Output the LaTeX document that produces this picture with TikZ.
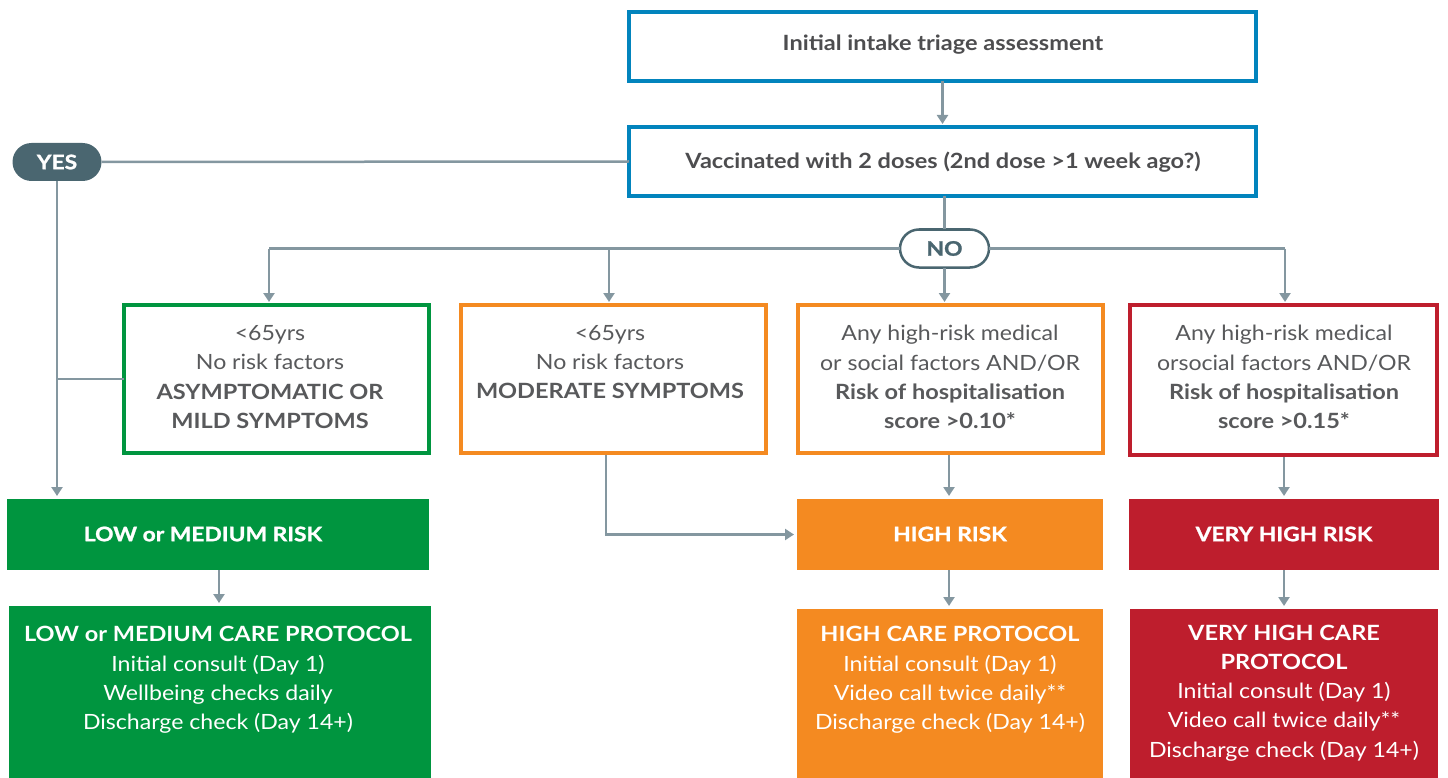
\documentclass[tikz,border=0pt]{standalone}
\usepackage{fontspec}
\setmainfont{Lato}[FakeStretch=1.1,BoldFeatures={FakeStretch=1.12}]
\newfontfamily\heavyfont{Lato}[FakeStretch=1.14,BoldFeatures={FakeStretch=1.14,FakeBold=1.2}]
\usetikzlibrary{arrows.meta,shapes.misc}
\definecolor{cblue}{HTML}{0284BD}
\definecolor{cgreen}{HTML}{00953F}
\definecolor{corange}{HTML}{F48A21}
\definecolor{cred}{HTML}{BE1E2D}
\definecolor{cpill}{HTML}{4A6670}
\definecolor{cline}{HTML}{8497A0}
\definecolor{ctext}{HTML}{58595B}
\definecolor{cdark}{HTML}{4D4D4F}
\begin{document}
\begin{tikzpicture}[x=1pt,y=-1pt,
  every node/.style={inner sep=0pt,outer sep=0pt},
  obox/.style={draw=#1,line width=4pt,fill=white,anchor=north west},
  fbox/.style={fill=#1,anchor=north west},
  txt/.style={align=center,text=ctext,font=\fontsize{21}{29.3}\selectfont},
  wtxt/.style={align=center,text=white,font=\fontsize{21}{29.2}\selectfont},
  htxt/.style={align=center,text=white,font=\fontsize{20}{24}\heavyfont\bfseries},
  ttxt/.style={align=center,text=cdark,font=\fontsize{21}{24}\selectfont\bfseries},
  pill/.style={rounded rectangle,minimum width=89pt,minimum height=38pt,font=\fontsize{20}{22}\heavyfont\bfseries},
  conn/.style={draw=cline,line width=2.5pt},
  arr/.style={conn,-{Triangle[width=11pt,length=9pt]},shorten >=3pt}
]
\useasboundingbox (0,0) rectangle (1448,778);

% top boxes
\node[obox=cblue,minimum width=627pt,minimum height=69pt] (intake) at (629,12) {};
\node[ttxt] (intaket) at (943,45) {Initial intake triage assessment};
\node[obox=cblue,minimum width=627pt,minimum height=69pt] (vacc) at (629,127) {};
\node[ttxt] (vacct) at (943,162) {Vaccinated with 2 doses (2nd dose >1 week ago?)};

% pills
\node[pill,fill=cpill,text=white] (yes) at (57,162) {YES};
\node[pill,draw=cpill,line width=2.5pt,fill=white,text=cpill] (no) at (944.5,248.5) {NO};

% row 3
\node[obox=cgreen,minimum width=305pt,minimum height=148pt] (g3) at (124,305) {};
\node[txt] (g3t) at (270,377) {<65yrs\\No risk factors\\\textbf{ASYMPTOMATIC OR}\\\textbf{MILD SYMPTOMS}};
\node[obox=corange,minimum width=305pt,minimum height=148pt] (o3a) at (461,305) {};
\node[txt] (o3at) at (610,362) {<65yrs\\No risk factors\\\textbf{MODERATE SYMPTOMS}};
\node[obox=corange,minimum width=305pt,minimum height=148pt] (o3b) at (798,305) {};
\node[txt] (o3bt) at (950,377) {Any high-risk medical\\or social factors AND/OR\\\textbf{Risk of hospitalisation}\\\textbf{score >0.10*}};
\node[obox=cred,minimum width=307pt,minimum height=150pt] (r3) at (1130,305) {};
\node[txt] (r3t) at (1284,377) {Any high-risk medical\\orsocial factors AND/OR\\\textbf{Risk of hospitalisation}\\\textbf{score >0.15*}};

% row 4
\node[fbox=cgreen,minimum width=422pt,minimum height=71pt] (low) at (7,499) {};
\node[htxt] (lowt) at (203,534) {LOW or MEDIUM RISK};
\node[fbox=corange,minimum width=306pt,minimum height=71pt] (high) at (797,499) {};
\node[htxt] (hight) at (950,534) {HIGH RISK};
\node[fbox=cred,minimum width=310pt,minimum height=71pt] (vhr) at (1129,499) {};
\node[htxt] (vhrt) at (1284,534) {VERY HIGH RISK};

% row 5
\node[fbox=cgreen,minimum width=422pt,minimum height=172pt] (gp) at (9,606) {};
\node[wtxt] (gpt) at (218,680) {\textbf{LOW or MEDIUM CARE PROTOCOL}\\Initial consult (Day 1)\\Wellbeing checks daily\\Discharge check (Day 14+)};
\node[fbox=corange,minimum width=306pt,minimum height=169pt] (op) at (797,609) {};
\node[wtxt] (opt) at (950,680) {\textbf{HIGH CARE PROTOCOL}\\Initial consult (Day 1)\\Video call twice daily**\\Discharge check (Day 14+)};
\node[fbox=cred,minimum width=308pt,minimum height=169pt] (rp) at (1130,609) {};
\node[wtxt] (rpt) at (1284,693) {\textbf{VERY HIGH CARE}\\\textbf{PROTOCOL}\\Initial consult (Day 1)\\Video call twice daily**\\Discharge check (Day 14+)};

% connectors
\draw[arr] (intake.south) -- (vacc.north);
\draw[conn] (vacc.west) -- (yes.east);
\draw[arr] (yes.south) -- (yes.south |- low.north);
\coordinate (jg) at (yes.south |- g3.west);
\draw[conn] (jg) -- (g3.west);
\draw[conn] (no.north |- vacc.south) -- (no.north);
\coordinate (b1) at (269,248.5);
\coordinate (b2) at (609,248.5);
\coordinate (b4) at (1285,248.5);
\draw[conn] (no.west) -- (b1);
\draw[conn] (no.east) -- (b4);
\draw[arr] (b1) -- (b1 |- g3.north);
\draw[arr] (b2) -- (b2 |- o3a.north);
\draw[arr] (no.south) -- (no.south |- o3b.north);
\draw[arr] (b4) -- (b4 |- r3.north);
\coordinate (m1) at (606,455);
\draw[arr] (m1) |- (high.west);
\coordinate (h1) at (949,455);
\draw[arr] (h1) -- (h1 |- high.north);
\coordinate (r1) at (1284,457);
\draw[arr] (r1) -- (r1 |- vhr.north);
\coordinate (l2) at (219,570);
\draw[arr] (l2) -- (l2 |- gp.north);
\coordinate (h2) at (949,570);
\draw[arr] (h2) -- (h2 |- op.north);
\coordinate (r2) at (1284,570);
\draw[arr] (r2) -- (r2 |- rp.north);
\end{tikzpicture}
\end{document}
